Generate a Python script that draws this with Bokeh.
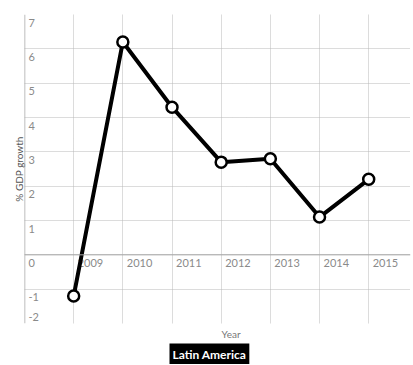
from bokeh.plotting import figure
from bokeh.models import FixedTicker, Span, Title, Range1d
from bokeh.core.properties import value
from bokeh.embed import file_html
from bokeh.resources import INLINE

years = [2009, 2010, 2011, 2012, 2013, 2014, 2015]
gdp_growth = [-1.2, 6.2, 4.3, 2.7, 2.8, 1.1, 2.2]
year_labels = ["2009", "2010", "2011", "2012", "2013", "2014", "2015"]
y_ticks = [-2, -1, 0, 1, 2, 3, 4, 5, 6, 7]
y_labels = ["-2", "-1", "0", "1", "2", "3", "4", "5", "6", "7"]
series_name = "Latin America"

FONT = "Lato"
x_min, x_max = 2008, 2015.85
y_min, y_max = -2, 7

p = figure(width=412, height=364, output_backend="svg", toolbar_location=None,
           x_range=Range1d(x_min, x_max), y_range=Range1d(y_min, y_max),
           min_border_left=24, min_border_right=2, min_border_top=14, min_border_bottom=37)
p.outline_line_color = None

p.xaxis.visible = False
ax = p.yaxis[0]
ax.ticker = FixedTicker(ticks=[])
ax.axis_line_color = None
ax.major_tick_line_color = None
ax.minor_tick_line_color = None
ax.major_label_text_font_size = "0px"
ax.axis_label = "% GDP growth"
ax.axis_label_text_font = FONT
ax.axis_label_text_font_size = "10px"
ax.axis_label_text_font_style = "normal"
ax.axis_label_text_color = "#555555"
ax.axis_label_standoff = 0
ax.major_label_standoff = 0

p.xgrid.ticker = FixedTicker(ticks=years)
p.ygrid.ticker = FixedTicker(ticks=y_ticks)
for g in (p.xgrid[0], p.ygrid[0]):
    g.grid_line_color = "#b8b8b8"
    g.grid_line_dash = "1 1"
    g.grid_line_width = 1

p.add_layout(Span(location=0, dimension="width", line_color="#a8a8a8", line_width=1))
p.add_layout(Span(location=x_min, dimension="height", line_color="#a8a8a8", line_width=1.5))

# tick labels inside plot
y_off = [8 if t > y_min else -7 for t in y_ticks]
p.text(x=[x_min] * len(y_ticks), y=y_ticks, text=y_labels, x_offset=4, y_offset=y_off,
       text_baseline="middle", text_align="left", text_font=value(FONT),
       text_font_size="11px", text_color="#8a8a8a")
p.text(x=years, y=[0] * len(years), text=year_labels, x_offset=4, y_offset=8,
       text_baseline="middle", text_align="left", text_font=value(FONT),
       text_font_size="11px", text_color="#8a8a8a")

p.line(years, gdp_growth, line_width=4, line_color="black")
p.scatter(years, gdp_growth, size=11, fill_color="white", line_color="black", line_width=2.5)

x_title = Title(text="Year", align="left", offset=197, text_color="#777777",
                text_font=FONT, text_font_size="10px", text_font_style="normal", standoff=4)
p.add_layout(x_title, "below")
legend_title = Title(text=series_name, align="left", offset=145, text_color="white",
                     background_fill_color="black", text_font=FONT, padding=3,
                     text_font_size="12px", text_font_style="bold", standoff=0)
p.add_layout(legend_title, "below")

open("out.html", "w").write(file_html(p, INLINE))
